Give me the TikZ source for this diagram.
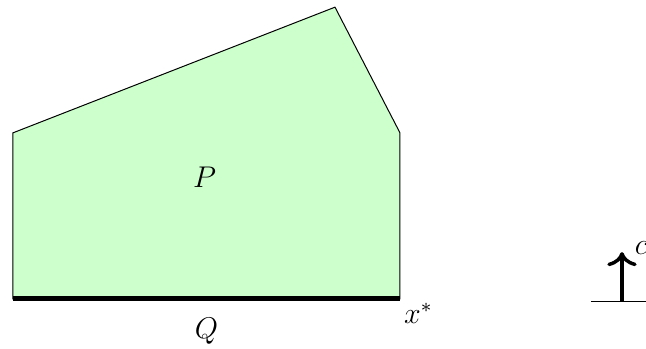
\documentclass[tikz,border=0pt]{standalone}
\usetikzlibrary{arrows.meta,positioning}
\definecolor{polyfill}{HTML}{CCFFCC}

\begin{document}
\begin{tikzpicture}[
    >={To[scale=1.2]},
    font=\large,
    region/.style={draw=black, fill=polyfill, line width=0.4pt},
    facet/.style={line width=2pt},
    objarrow/.style={->, line width=1.4pt},
    ground/.style={line width=0.4pt},
]
\useasboundingbox (-0.183,-0.704) rectangle (8.915,4.211);

% =====================================================
% Polytope P
% =====================================================
\coordinate (bl) at (0,0);
\coordinate (br) at (5.45,0);
\coordinate (mr) at (5.45,2.34);
\coordinate (top) at (4.535,4.11);
\coordinate (ml) at (0,2.34);

\draw[region] (bl) -- (br) -- (mr) -- (top) -- (ml) -- cycle;
\node (plabel) at (2.70,1.72) {$P$};

% --- face Q and optimum x* ---
\draw[facet] (bl) -- (br)
    node[midway, below=3.5pt] (qlabel) {$Q$};
\node[below right, inner sep=1.5pt] (xstar) at (br) {$x^*$};

% =====================================================
% Objective direction c
% =====================================================
\coordinate (gl) at (8.14,-0.03);
\coordinate (gr) at (9.3,-0.03);
\coordinate (cbase) at (8.577,-0.03);
\coordinate (ctip) at (8.577,0.66);

\draw[ground] (gl) -- (gr);
\draw[objarrow] (cbase) -- (ctip);
\node[anchor=west, inner sep=1pt, xshift=4pt, yshift=1.5pt] (clabel) at (ctip) {$c$};

\end{tikzpicture}
\end{document}
